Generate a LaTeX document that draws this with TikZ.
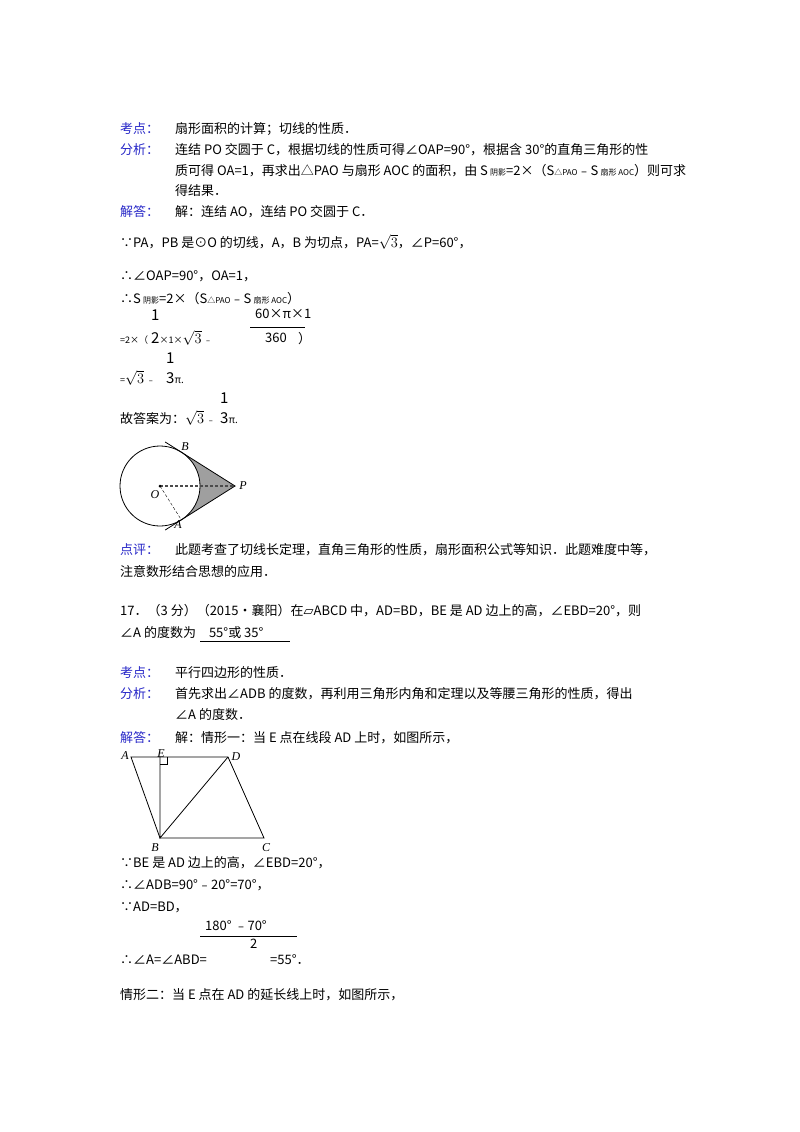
\documentclass[tikz,border=0pt]{standalone}
\usepackage{fontspec}
\usetikzlibrary{calc}
\setmainfont{Noto Sans CJK SC}
\newfontfamily\dvs{DejaVu Sans}
\newfontfamily\lser{Liberation Serif}
\definecolor{lab}{RGB}{40,40,200}
\newcommand\smtx[1]{{\fontsize{8}{8}\selectfont #1}}
\newcommand\bigsq{{\fontsize{15}{15}\selectfont$\sqrt{3}$}}
\begin{document}
\begin{tikzpicture}[x=1pt,y=-1pt,
  t/.style={anchor=base west,inner sep=0pt,font=\fontsize{13}{13}\selectfont},
  lb/.style={t,text=lab},
  sm/.style={anchor=base west,inner sep=0pt,font=\fontsize{9}{9}\selectfont},
  fig/.style={line width=0.8pt},
  lt/.style={inner sep=1pt,font=\fontsize{12}{12}\lser\itshape}]
\useasboundingbox[fill=white] (0,0) rectangle (800,1132);
\node[lb] (k1) at (120,133) {考点：};
\node[t] (k1t) at (175,133) {扇形面积的计算；切线的性质．};
\node[lb] (f1) at (120,154) {分析：};
\node[t] (f1a) at (175,154) {连结 PO 交圆于 C，根据切线的性质可得∠OAP=90°，根据含 30°的直角三角形的性};
\node[t] (f1b) at (175,175) {质可得 OA=1，再求出△PAO 与扇形 AOC 的面积，由 S\,\smtx{阴影}=2×（S\smtx{△PAO}﹣S\,\smtx{扇形 AOC}）则可求};
\node[t] (f1c) at (175,195) {得结果．};
\node[lb] (j1) at (120,216) {解答：};
\node[t] (j1t) at (175,216) {解：连结 AO，连结 PO 交圆于 C．};
\node[t] (l1) at (120,247) {∵PA，PB 是⊙O 的切线，A，B 为切点，PA=\bigsq，∠P=60°，};
\node[t] (l2) at (120,280) {∴∠OAP=90°，OA=1，};
\node[t] (l3) at (120,303) {∴S\,\smtx{阴影}=2×（S\smtx{△PAO}﹣S\,\smtx{扇形 AOC}）};
\node[sm] (l4a) at (120,343) {=2×（};
\node[t] (l4b) at (151,320) {\fontsize{15}{15}\selectfont 1};
\node[t] (l4c) at (151,343) {\fontsize{15}{15}\selectfont 2\fontsize{9}{9}\selectfont×1×\bigsq\fontsize{9}{9}\selectfont\ ﹣};
\node[t] (l4d) at (255,318) {60×π×1};
\node[t] (l4e) at (265,342) {360};
\draw (250,327) -- (305,327);
\node[t] (l4f) at (298,343) {）};
\node[t] (l5a) at (120,383) {\fontsize{9}{9}\selectfont=\bigsq\fontsize{9}{9}\selectfont\ ﹣};
\node[t] (l5b) at (166,363) {\fontsize{15}{15}\selectfont 1};
\node[t] (l5c) at (166,383) {\fontsize{15}{15}\selectfont 3\fontsize{10}{10}\selectfont π.};
\node[t] (l6a) at (120,423) {故答案为：\bigsq\fontsize{9}{9}\selectfont\ ﹣};
\node[t] (l6b) at (220,403) {\fontsize{15}{15}\selectfont 1};
\node[t] (l6c) at (220,423) {\fontsize{15}{15}\selectfont 3\fontsize{10}{10}\selectfont π.};
% circle figure
\coordinate (O) at (160,486);
\coordinate (P) at (235,486);
\coordinate (B) at ($(O)+(-57.8:40)$);
\coordinate (A) at ($(O)+(57.8:40)$);
\fill[gray!75] (P) -- (B) arc[start angle=-57.8,end angle=57.8,radius=40] -- cycle;
\draw[fig] (O) circle[radius=40];
\draw[fig] ($(P)!1.3!(B)$) -- (P) -- ($(P)!1.3!(A)$);
\draw[fig,densely dashed,gray!60!black,line width=1.2pt] (O) -- (P);
\draw[densely dashed] (O) -- (A);
\fill (O) circle[radius=1.5];
\node[lt] (Ol) at (155,495) {O};
\node[lt] (Pl) at (243,486) {P};
\node[lt] (Bl) at (185,447) {B};
\node[lt] (Al) at (178,525) {A};
\node[lb] (d1) at (120,554) {点评：};
\node[t] (d1t) at (175,554) {此题考查了切线长定理，直角三角形的性质，扇形面积公式等知识．此题难度中等，};
\node[t] (d2t) at (120,576) {注意数形结合思想的应用．};
\node[t] (q1) at (120,615) {17．（3 分）（2015•襄阳）在{\dvs ▱}ABCD 中，AD=BD，BE 是 AD 边上的高，∠EBD=20°，则};
\node[t] (q2) at (120,637) {∠A 的度数为\quad 55°或 35°};
\draw (200,641) -- (290,641);
\node[lb] (k2) at (120,677) {考点：};
\node[t] (k2t) at (175,677) {平行四边形的性质．};
\node[lb] (f2) at (120,698) {分析：};
\node[t] (f2a) at (175,698) {首先求出∠ADB 的度数，再利用三角形内角和定理以及等腰三角形的性质，得出};
\node[t] (f2b) at (175,719) {∠A 的度数．};
\node[lb] (j2) at (120,742) {解答：};
\node[t] (j2t) at (175,742) {解：情形一：当 E 点在线段 AD 上时，如图所示，};
% parallelogram
\coordinate (pA) at (131,757);
\coordinate (pE) at (160,757);
\coordinate (pD) at (228,757);
\coordinate (pB) at (160,838);
\coordinate (pC) at (264,838);
\draw[fig] (pA) -- (pD) -- (pC) -- (pB) -- cycle;
\draw[fig] (pE) -- (pB) -- (pD);
\draw (pE) ++(0,7) -- ++(7,0) -- ++(0,-7);
\node[lt] (Al2) at (125,756) {A};
\node[lt] (El2) at (161,754) {E};
\node[lt] (Dl2) at (236,757) {D};
\node[lt] (Bl2) at (155,848) {B};
\node[lt] (Cl2) at (266,848) {C};
\node[t] (m1) at (120,867) {∵BE 是 AD 边上的高，∠EBD=20°，};
\node[t] (m2) at (120,889) {∴∠ADB=90°﹣20°=70°，};
\node[t] (m3) at (120,911) {∵AD=BD，};
\node[t] (m4a) at (205,930) {180°\ ﹣70°};
\draw (200,936) -- (297,936);
\node[t] (m4b) at (250,948) {2};
\node[t] (m4c) at (120,964) {∴∠A=∠ABD=};
\node[t] (m4d) at (270,964) {=55°．};
\node[t] (m5) at (120,999) {情形二：当 E 点在 AD 的延长线上时，如图所示，};
\end{tikzpicture}
\end{document}
